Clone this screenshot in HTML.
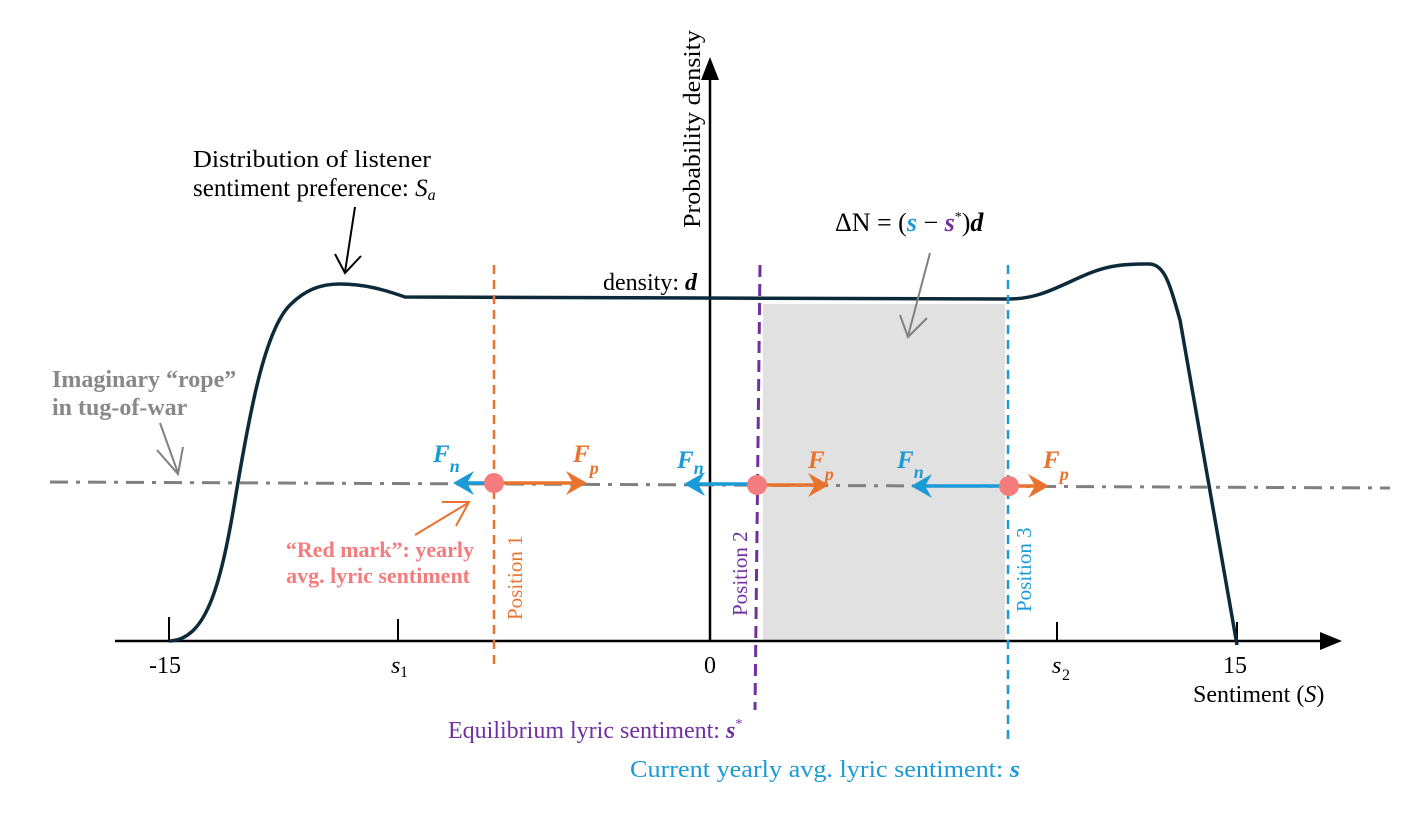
<!DOCTYPE html>
<html><head><meta charset="utf-8"><style>
html,body{margin:0;padding:0;background:#fff;}
svg{display:block;font-family:"Liberation Serif",serif;}
</style></head><body>
<svg width="1422" height="820" viewBox="0 0 1422 820" xmlns="http://www.w3.org/2000/svg">
<rect x="763" y="304" width="242" height="337" fill="#e1e1e1"/>
<line x1="115" y1="641" x2="1320" y2="641" stroke="#000" stroke-width="2.5"/>
<polygon points="1320,632 1342,641 1320,650" fill="#000"/>
<line x1="710" y1="641" x2="710" y2="78" stroke="#000" stroke-width="2.5"/>
<polygon points="701,80 710,57 719,80" fill="#000"/>
<line x1="169" y1="617" x2="169" y2="641" stroke="#000" stroke-width="2"/>
<line x1="398" y1="619" x2="398" y2="641" stroke="#000" stroke-width="2"/>
<line x1="1057" y1="622" x2="1057" y2="641" stroke="#000" stroke-width="2"/>
<line x1="1237" y1="622" x2="1237" y2="641" stroke="#000" stroke-width="2"/>
<path d="M169,641 C205,640 220,590 235,500 C250,410 265,330 290,305 C305,290 320,284 340,284 C365,284 385,290 405,297 L1005,299 C1040,300 1060,285 1090,273 C1110,265 1125,264 1150,264 C1165,265 1170,285 1180,320 L1237,645" fill="none" stroke="#0d2a3a" stroke-width="3.5"/>
<line x1="50" y1="482" x2="1390" y2="488" stroke="#808080" stroke-width="3" stroke-dasharray="18,8,4,8"/>
<line x1="494" y1="265" x2="494" y2="670" stroke="#e8732e" stroke-width="2.5" stroke-dasharray="9,6"/>
<line x1="760" y1="265" x2="755" y2="710" stroke="#7030a0" stroke-width="3" stroke-dasharray="12,7"/>
<line x1="1008" y1="265" x2="1008" y2="745" stroke="#1a9ad6" stroke-width="2.5" stroke-dasharray="9,6"/>
<g stroke-width="3.5">
<line x1="494" y1="483" x2="462" y2="483" stroke="#1a9ad6"/>
<polygon points="453,483 474,471 467,483 474,495" fill="#1a9ad6"/>
<line x1="494" y1="483" x2="578" y2="483" stroke="#e8732e"/>
<polygon points="587,483 566,471 573,483 566,495" fill="#e8732e"/>
<line x1="757" y1="484" x2="692" y2="484" stroke="#1a9ad6"/>
<polygon points="684,484 705,472 698,484 705,496" fill="#1a9ad6"/>
<line x1="757" y1="485" x2="820" y2="485" stroke="#e8732e"/>
<polygon points="829,485 808,473 815,485 808,497" fill="#e8732e"/>
<line x1="1009" y1="486" x2="920" y2="486" stroke="#1a9ad6"/>
<polygon points="911,486 932,474 925,486 932,498" fill="#1a9ad6"/>
<line x1="1009" y1="486" x2="1040" y2="486" stroke="#e8732e"/>
<polygon points="1049,486 1028,474 1035,486 1028,498" fill="#e8732e"/>
</g>
<circle cx="494" cy="483" r="10" fill="#f47c7c"/>
<circle cx="757" cy="485" r="10" fill="#f47c7c"/>
<circle cx="1009" cy="486" r="10" fill="#f47c7c"/>
<g fill="none" stroke-width="2">
<line x1="355" y1="207" x2="345" y2="272" stroke="#000"/>
<polyline points="335,254 345,273 361,256" stroke="#000"/>
<line x1="930" y1="253" x2="908" y2="336" stroke="#808080"/>
<polyline points="900,315 908,337 927,318" stroke="#808080"/>
<line x1="160" y1="423" x2="178" y2="473" stroke="#808080"/>
<polyline points="157,450 178,474 183,447" stroke="#808080"/>
<line x1="415" y1="535" x2="468" y2="503" stroke="#e8732e"/>
<polyline points="442,502 469,502 456,526" stroke="#e8732e"/>
</g>
<g font-size="24" fill="#000">
<text x="193" y="167" textLength="238" lengthAdjust="spacingAndGlyphs">Distribution of listener</text>
<text x="193" y="196" font-size="25">sentiment preference: <tspan font-style="italic">S</tspan><tspan font-style="italic" font-size="16" dy="4">a</tspan></text>
<text transform="translate(700,228) rotate(-90)" textLength="198" lengthAdjust="spacingAndGlyphs">Probability density</text>
<text x="835" y="231" font-size="26">ΔN = (<tspan fill="#1a9ad6" font-weight="bold" font-style="italic">s</tspan> − <tspan fill="#7030a0" font-weight="bold" font-style="italic">s</tspan><tspan font-size="14" dy="-10">*</tspan><tspan dy="10">)</tspan><tspan font-weight="bold" font-style="italic">d</tspan></text>
<text x="603" y="290">density: <tspan font-weight="bold" font-style="italic">d</tspan></text>
<text x="165" y="673" text-anchor="middle">-15</text>
<text x="391" y="673" font-style="italic">s</text><text x="400" y="677" font-size="16">1</text>
<text x="710" y="673" text-anchor="middle">0</text>
<text x="1052" y="673" font-style="italic">s</text><text x="1062" y="680" font-size="16">2</text>
<text x="1235" y="673" text-anchor="middle">15</text>
<text x="1193" y="702">Sentiment (<tspan font-style="italic">S</tspan>)</text>
<text x="448" y="738" fill="#7030a0">Equilibrium lyric sentiment: <tspan font-weight="bold" font-style="italic">s</tspan><tspan font-size="14" dy="-10">*</tspan></text>
<text x="630" y="777" fill="#1a9ad6" textLength="390" lengthAdjust="spacingAndGlyphs">Current yearly avg. lyric sentiment: <tspan font-weight="bold" font-style="italic">s</tspan></text>
</g>
<g font-size="24" font-weight="bold" fill="#888">
<text x="52" y="387">Imaginary “rope”</text>
<text x="52" y="415">in tug-of-war</text>
</g>
<g font-size="22" font-weight="bold" fill="#f47c7c" text-anchor="end">
<text x="474" y="557">“Red mark”: yearly</text>
<text x="470" y="583">avg. lyric sentiment</text>
</g>
<g font-size="21">
<text transform="translate(522,620) rotate(-90)" fill="#e8732e">Position 1</text>
<text transform="translate(747,616) rotate(-90)" fill="#7030a0">Position 2</text>
<text transform="translate(1031,612) rotate(-90)" fill="#1a9ad6">Position 3</text>
</g>
<g font-size="25" font-weight="bold" font-style="italic">
<text x="433" y="462" fill="#1a9ad6">F<tspan font-size="18" dy="10">n</tspan></text>
<text x="573" y="462" fill="#e8732e">F<tspan font-size="18" dy="12">p</tspan></text>
<text x="677" y="468" fill="#1a9ad6">F<tspan font-size="18" dy="6">n</tspan></text>
<text x="808" y="468" fill="#e8732e">F<tspan font-size="18" dy="12">p</tspan></text>
<text x="897" y="468" fill="#1a9ad6">F<tspan font-size="18" dy="10">n</tspan></text>
<text x="1043" y="468" fill="#e8732e">F<tspan font-size="18" dy="12">p</tspan></text>
</g>
</svg>
</body></html>
